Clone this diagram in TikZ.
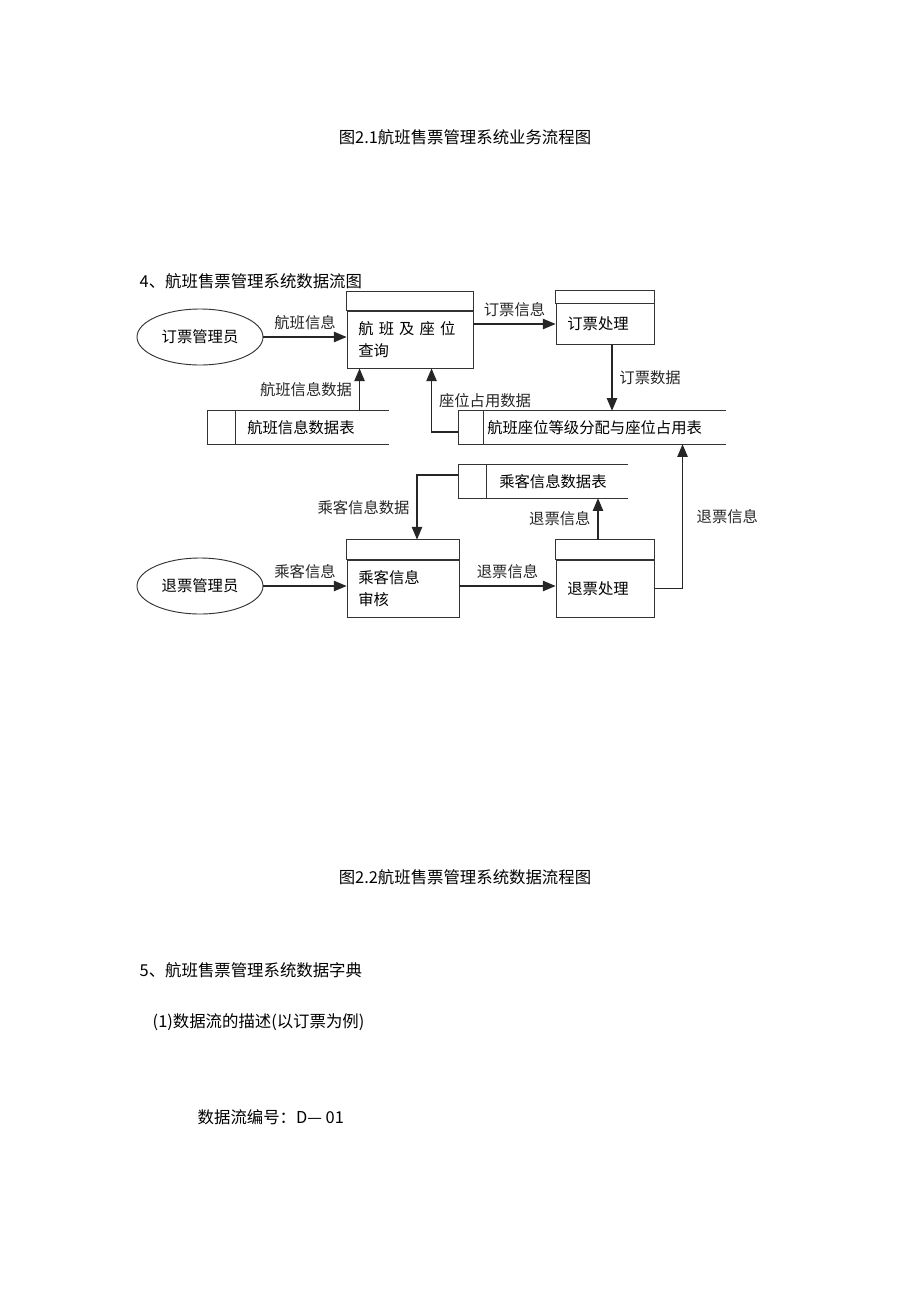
\documentclass[tikz,border=0pt]{standalone}
\usepackage{fontspec}
\setmainfont{Noto Sans CJK SC}
\usetikzlibrary{shapes, shapes.geometric}
\usetikzlibrary{arrows}
\usetikzlibrary{calc}

\begin{document}
\begin{tikzpicture}[x=0.75pt, y=-0.75pt,
        font=\fontsize{11.5}{17}\selectfont,
        head/.style={font=\fontsize{12.3}{15}\selectfont},
        actor/.style={draw=black!80, ellipse, line width=0.7pt, minimum width=94.5pt, minimum height=42pt, inner sep=0pt},
        proc/.style={draw=black!80, rectangle, line width=0.7pt, inner xsep=8.5pt, inner ysep=0pt, align=left},
        store/.style={anchor=west, inner sep=0pt, minimum height=24.75pt, align=left},
        frame/.style={draw=black!80, line width=0.7pt},
        flow/.style={>=triangle 45, ->, line width=1.2pt, black!85},
        lbl/.style={inner sep=5pt, text=black!85}]
        \path[use as bounding box, fill=white] (0,0) rectangle (920,1303);

        % captions and headings
        \node[head] (cap1) at (465,137) {图2.1航班售票管理系统业务流程图};
        \node[head, anchor=west] (sec4) at (135,281) {4、航班售票管理系统数据流图};

        % external entities
        \node[actor] (o1) at (200,337) {订票管理员};
        \node[actor] (o2) at (200,586) {退票管理员};

        % processes
        \node[proc, text width=77.5pt, minimum height=42.75pt] (query) at (410,339.5) {航 班 及 座 位\\查询};
        \draw[frame] (query.north west) rectangle ([yshift=14.25pt]query.north east);
        \node[proc, text width=56.5pt, minimum height=30.75pt] (tkt) at (605,324) {订票处理};
        \draw[frame] (tkt.north west) rectangle ([yshift=9.75pt]tkt.north east);
        \node[proc, text width=67pt, minimum height=42.75pt] (pax) at (403,588.5) {乘客信息\\审核};
        \draw[frame] (pax.north west) rectangle ([yshift=15pt]pax.north east);
        \node[proc, text width=56.5pt, minimum height=42.75pt] (ref) at (605,588.5) {退票处理};
        \draw[frame] (ref.north west) rectangle ([yshift=15pt]ref.north east);

        % data stores
        \node[store, text width=105.75pt] (tab1) at (247,427.5) {航班信息数据表};
        \draw[frame] (tab1.north east) -- ([xshift=-30pt]tab1.north west) -- ([xshift=-30pt]tab1.south west) -- (tab1.south east);
        \draw[frame] ([xshift=-9pt]tab1.north west) -- ([xshift=-9pt]tab1.south west);
        \node[store, text width=178.5pt] (tab2) at (487,427.5) {航班座位等级分配与座位占用表};
        \draw[frame] (tab2.north east) -- ([xshift=-21.75pt]tab2.north west) -- ([xshift=-21.75pt]tab2.south west) -- (tab2.south east);
        \draw[frame] ([xshift=-3pt]tab2.north west) -- ([xshift=-3pt]tab2.south west);
        \node[store, text width=96pt] (tab3) at (499,481.5) {乘客信息数据表};
        \draw[frame] (tab3.north east) -- ([xshift=-30.75pt]tab3.north west) -- ([xshift=-30.75pt]tab3.south west) -- (tab3.south east);
        \draw[frame] ([xshift=-9.75pt]tab3.north west) -- ([xshift=-9.75pt]tab3.south west);

        % data flows
        \coordinate (q1) at ([xshift=9.75pt]query.south west);
        \coordinate (q2) at ([xshift=63.75pt]query.south west);
        \coordinate (t1) at ([xshift=5.25pt]tkt.south);
        \coordinate (t2in) at ([xshift=-21.75pt, yshift=-3.4pt]tab2.west);
        \coordinate (t2b) at ([xshift=-32.25pt]tab2.south east);
        \coordinate (t3in) at ([xshift=-30.75pt, yshift=4.9pt]tab3.west);
        \coordinate (p1) at ([xshift=10.5pt, yshift=15pt]pax.north);
        \coordinate (r1) at ([xshift=-5.25pt, yshift=15pt]ref.north);

        \draw[flow] (o1.east) -- (o1.east -| query.west) node[lbl, midway, above] {航班信息};
        \draw[flow] (query.east |- tkt.west) -- (tkt.west) node[lbl, midway, above] {订票信息};
        \draw[flow] (q1 |- tab1.north) -- (q1) node[lbl, midway, left] {航班信息数据};
        \draw[flow] (t2in) -| (q2) node[lbl, pos=0.75, right] {座位占用数据};
        \draw[flow] (t1) -- (t1 |- tab2.north) node[lbl, midway, right] {订票数据};
        \draw[flow] (t3in) -| (p1) node[lbl, pos=0.75, left] {乘客信息数据};
        \draw[flow] (o2.east) -- (o2.east -| pax.west) node[lbl, midway, above] {乘客信息};
        \draw[flow] (pax.east |- o2.east) -- (ref.west |- o2.east) node[lbl, midway, above] {退票信息};
        \draw[flow] (r1) -- (r1 |- tab3.south) node[lbl, midway, left] {退票信息};
        \draw[flow] (ref.east) -| (t2b) node[lbl, pos=0.75, right, xshift=5pt] {退票信息};

        \node[head] (cap2) at (465,877) {图2.2航班售票管理系统数据流程图};
        \node[head, anchor=west] (sec5) at (135,970) {5、航班售票管理系统数据字典};
        \node[head, anchor=west] (sub1) at (148,1022) {(1)数据流的描述(以订票为例)};
        \node[head, anchor=west] (dfno) at (193,1117) {数据流编号：D— 01};
\end{tikzpicture}
\end{document}
